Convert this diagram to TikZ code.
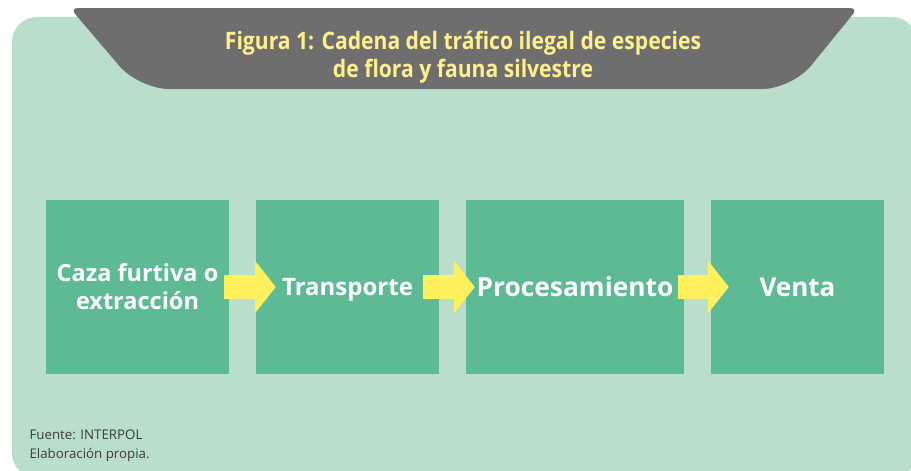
\documentclass[tikz,border=0pt]{standalone}
\usepackage{fontspec}
\setmainfont{Open Sans}
\newfontfamily\titlefont[FakeStretch=0.88]{Open Sans Bold}
\usetikzlibrary{arrows.meta}
\definecolor{bggreen}{HTML}{B9DECB}
\definecolor{boxgreen}{HTML}{5EBA94}
\definecolor{titlegrey}{HTML}{6E6E6E}
\definecolor{titleyellow}{HTML}{FFF08C}
\definecolor{arrowyellow}{HTML}{FFF15E}
\definecolor{notegrey}{HTML}{3C3C3C}
\begin{document}
\begin{tikzpicture}[x=1pt,y=-1pt,
    stage/.style={fill=boxgreen,text=white,align=center,
      minimum height=174pt,inner sep=0pt},
    flow/.style={arrowyellow,line width=24pt,
      -{Triangle[length=21pt,width=52pt]}}]
  \useasboundingbox (0,0) rectangle (911,471);
  \clip (0,0) rectangle (911,471);
  % background and title plate
  \fill[bggreen,rounded corners=25pt] (12,17) rectangle (917,478);
  \fill[titlegrey] (464,8) [rounded corners=8pt] -- (858,8)
    [rounded corners=30pt] -- (792,89) -- (139,89)
    [rounded corners=8pt] -- (70,8) -- cycle;
  \node (title) at (463,57) [text=titleyellow,align=center,
    font=\titlefont\fontsize{24}{28}\selectfont]
    {Figura 1: Cadena del tráfico ilegal de especies\\de flora y fauna silvestre};
  % stages
  \node[stage,minimum width=183pt,font=\bfseries\fontsize{23.5}{28}\selectfont]
    (caza) at (137.5,287) {Caza furtiva o\\extracción};
  \node[stage,minimum width=183pt,text depth=0pt,
    font=\bfseries\fontsize{24}{28}\selectfont]
    (transporte) at (347.5,287) {Transporte};
  \node[stage,minimum width=218pt,text depth=0pt,
    font=\bfseries\fontsize{26.3}{30}\selectfont]
    (proceso) at (575,287) {Procesamiento};
  \node[stage,minimum width=173pt,font=\bfseries\fontsize{26}{30}\selectfont]
    (venta) at (797.5,287) {Venta};
  % arrows
  \draw[flow] ([xshift=-5pt]caza.east) -- ([xshift=20pt]transporte.west);
  \draw[flow] ([xshift=-16pt]transporte.east) -- ([xshift=9pt]proceso.west);
  \draw[flow] ([xshift=-6pt]proceso.east) -- ([xshift=18pt]venta.west);
  % source
  \node (fuente) at (26,446) [anchor=west,align=left,text=notegrey,
    font=\fontsize{13.3}{19}\selectfont]
    {Fuente: INTERPOL\\Elaboración propia.};
\end{tikzpicture}
\end{document}
